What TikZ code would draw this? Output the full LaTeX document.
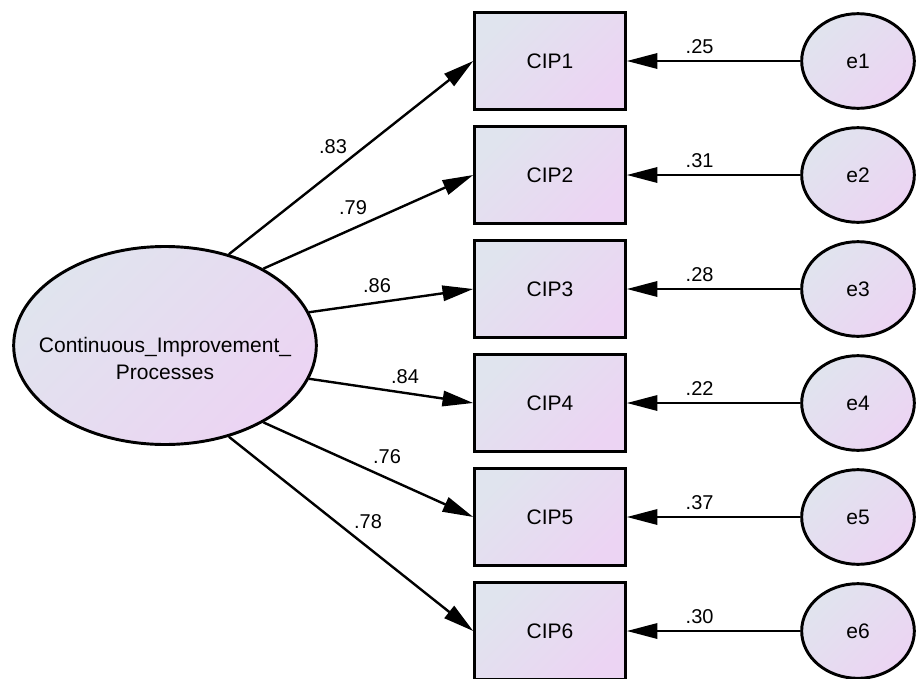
\documentclass[tikz,border=0pt]{standalone}
\usepackage{fontspec}
\setmainfont{Liberation Sans}
\usetikzlibrary{arrows.meta,shapes.geometric}
\definecolor{shA}{HTML}{E0E4EE}
\definecolor{shB}{HTML}{ECD4F3}
\begin{document}
\begin{tikzpicture}[x=0.75pt,y=-0.75pt,
  shadefill/.style={draw=black, line width=2.2pt, top color=shA, bottom color=shB, shading angle=45},
  obsbox/.style={shadefill, rectangle, minimum width=113pt, minimum height=72.5pt, inner sep=0pt,
    font=\fontsize{15.75}{19}\selectfont},
  errnode/.style={shadefill, ellipse, minimum width=84.5pt, minimum height=71pt, inner sep=0pt,
    font=\fontsize{15.75}{19}\selectfont},
  latnode/.style={shadefill, ellipse, minimum width=227pt, minimum height=148.5pt, inner sep=0pt},
  patharrow/.style={line width=1.8pt, -{Triangle[length=23pt,width=11.5pt]}},
  coef/.style={font=\fontsize{15}{18}\selectfont, inner sep=0pt}
]
\useasboundingbox (0,0) rectangle (917,678);

% latent variable
\node[latnode] (lat) at (165,345.5) {};
\node[align=center, font=\fontsize{15.75}{20.25}\selectfont, inner sep=0pt] (latlabel) at (165,358)
  {Continuous\_Improvement\_\\Processes};

% observed variables and errors
\foreach \i/\v in {1/.25,2/.31,3/.28,4/.22,5/.37,6/.30}{
  \pgfmathsetmacro{\yy}{61+114*(\i-1)}
  \node[obsbox] (cip\i) at (550,\yy) {CIP\i};
  \node[errnode] (e\i) at (858,\yy) {e\i};
  \draw[patharrow] (e\i) -- (cip\i) node[coef, pos=0.58, yshift=10.5pt] (el\i) {\v};
}

% loadings
\draw[patharrow] (lat.55)    -- (cip1.west);
\draw[patharrow] (lat.38.5)  -- (cip2.west);
\draw[patharrow] (lat.13)    -- (cip3.west);
\draw[patharrow] (lat.-13)   -- (cip4.west);
\draw[patharrow] (lat.-38.5) -- (cip5.west);
\draw[patharrow] (lat.-55)   -- (cip6.west);

\node[coef] (l1) at (333,147) {.83};
\node[coef] (l2) at (353,208) {.79};
\node[coef] (l3) at (377,286) {.86};
\node[coef] (l4) at (405,377) {.84};
\node[coef] (l5) at (387,457) {.76};
\node[coef] (l6) at (368,522) {.78};
\end{tikzpicture}
\end{document}
